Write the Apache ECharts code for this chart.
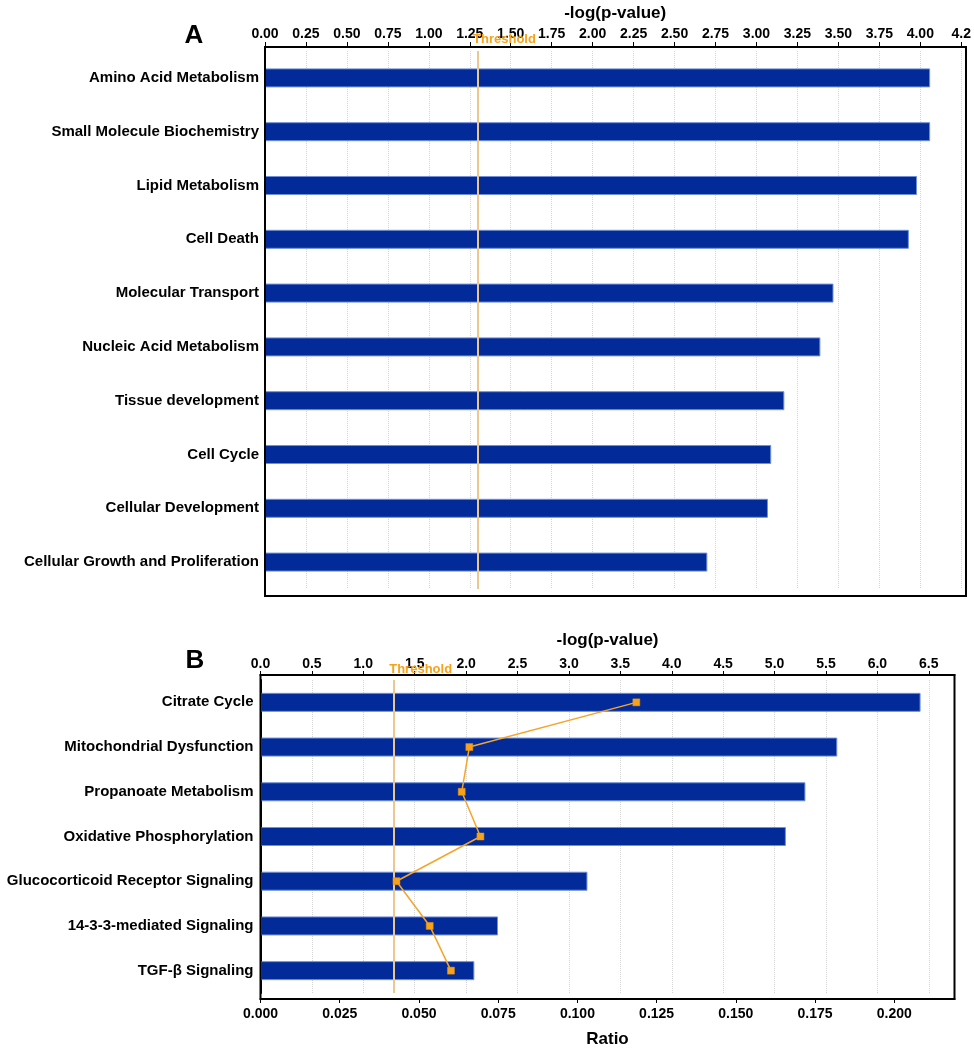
<!DOCTYPE html>
<html>
<head>
<meta charset="utf-8">
<script src="https://cdn.jsdelivr.net/npm/echarts@6/dist/echarts.min.js"></script>
<style>
html,body{margin:0;padding:0;background:#fff;}
#chart{width:974px;height:1050px;}
</style>
</head>
<body>
<div id="chart"></div>
<script>
// ---- Data ----
const categoriesA = ['Amino Acid Metabolism','Small Molecule Biochemistry','Lipid Metabolism','Cell Death','Molecular Transport','Nucleic Acid Metabolism','Tissue development','Cell Cycle','Cellular Development','Cellular Growth and Proliferation'];
const pValuesA = [4.06, 4.06, 3.98, 3.93, 3.47, 3.39, 3.17, 3.09, 3.07, 2.70];

const categoriesB = ['Citrate Cycle','Mitochondrial Dysfunction','Propanoate Metabolism','Oxidative Phosphorylation','Glucocorticoid Receptor Signaling','14-3-3-mediated Signaling','TGF-β Signaling'];
const pValuesB = [6.42, 5.61, 5.30, 5.11, 3.18, 2.31, 2.08];
const ratioB = [0.1186, 0.0659, 0.0635, 0.0694, 0.0429, 0.0534, 0.0601];

const threshold = 1.3;
const ticksA = {min: 0, max: 4.275, interval: 0.25};
const ticksB = {min: 0, max: 6.75, interval: 0.5};
const ticksRatio = {min: 0, max: 0.219, interval: 0.025};

// ---- Styles ----
const FONT = "'Liberation Sans', Arial, Helvetica, sans-serif";
const BAR = '#022a98';
const ORANGE = '#f7a21b';
const axisLineStyle = {show: true, lineStyle: {color: '#000', width: 2}};
const dotted = {show: true, lineStyle: {color: '#d4d4d4', type: 'dotted', width: 1}};
const tickLabel = {color: '#000', fontFamily: FONT, fontWeight: 'bold', fontSize: 14};
const catLabel = {color: '#000', fontFamily: FONT, fontWeight: 'bold', fontSize: 15};
const nameStyle = {color: '#000', fontFamily: FONT, fontWeight: 'bold', fontSize: 17};

function thresholdMark(dist) {
  return {
    silent: true,
    symbol: ['none', 'none'],
    lineStyle: {color: '#ecc890', width: 2, type: 'solid'},
    label: {
      show: true, position: 'start', formatter: 'Threshold',
      color: ORANGE, fontFamily: FONT, fontWeight: 'bold', fontSize: 13,
      padding: [0, 0, 0, 53], distance: dist
    },
    data: [{xAxis: threshold}]
  };
}

const chart = echarts.init(document.getElementById('chart'), null, {renderer: 'canvas'});
chart.setOption({
  backgroundColor: '#fff',
  animation: false,
  grid: [
    {left: 265, top: 51, width: 701, height: 538},
    {left: 260.5, top: 680, width: 694, height: 313}
  ],
  xAxis: [
    {
      gridIndex: 0, type: 'value', position: 'top', offset: 4,
      min: ticksA.min, max: ticksA.max, interval: ticksA.interval,
      name: '-log(p-value)', nameLocation: 'middle', nameGap: 25, nameTextStyle: nameStyle,
      axisLine: axisLineStyle,
      axisTick: {show: true, length: 5, lineStyle: {color: '#000', width: 1}},
      axisLabel: Object.assign({margin: 6, showMaxLabel: false,
        formatter: v => (Math.abs(v - 4.25) < 1e-9 ? '4.2' : v.toFixed(2))}, tickLabel),
      splitLine: dotted
    },
    {
      gridIndex: 1, type: 'value', position: 'top', offset: 5,
      min: ticksB.min, max: ticksB.max, interval: ticksB.interval,
      name: '-log(p-value)', nameLocation: 'middle', nameGap: 26, nameTextStyle: nameStyle,
      axisLine: axisLineStyle,
      axisTick: {show: true, length: 4, lineStyle: {color: '#000', width: 1}},
      axisLabel: Object.assign({margin: 4, showMaxLabel: false,
        formatter: v => v.toFixed(1)}, tickLabel),
      splitLine: dotted
    },
    {
      gridIndex: 1, type: 'value', position: 'bottom', offset: 6,
      min: ticksRatio.min, max: ticksRatio.max, interval: ticksRatio.interval,
      name: 'Ratio', nameLocation: 'middle', nameGap: 32, nameTextStyle: nameStyle,
      axisLine: axisLineStyle,
      axisTick: {show: true, length: 4, lineStyle: {color: '#000', width: 1}},
      axisLabel: Object.assign({margin: 8, showMaxLabel: false,
        formatter: v => v.toFixed(3)}, tickLabel),
      splitLine: {show: false}
    }
  ],
  yAxis: [
    {
      gridIndex: 0, type: 'category', data: categoriesA, inverse: true,
      axisLine: axisLineStyle, axisTick: {show: false},
      axisLabel: Object.assign({margin: 6}, catLabel),
      splitLine: {show: false}
    },
    {
      gridIndex: 1, type: 'category', data: categoriesB, inverse: true,
      axisLine: axisLineStyle, axisTick: {show: false},
      axisLabel: Object.assign({margin: 7}, catLabel),
      splitLine: {show: false}
    }
  ],
  series: [
    {
      type: 'bar', xAxisIndex: 0, yAxisIndex: 0, data: pValuesA, barWidth: 19,
      itemStyle: {color: BAR, borderColor: '#6f8fd8', borderWidth: 1},
      markLine: thresholdMark(5), z: 2
    },
    {
      type: 'bar', xAxisIndex: 1, yAxisIndex: 1, data: pValuesB, barWidth: 19,
      itemStyle: {color: BAR, borderColor: '#6f8fd8', borderWidth: 1},
      markLine: thresholdMark(4), z: 2
    },
    {
      type: 'line', xAxisIndex: 2, yAxisIndex: 1, data: ratioB,
      symbol: 'rect', symbolSize: 7, z: 5,
      lineStyle: {color: '#f5a52a', width: 1.5},
      itemStyle: {color: ORANGE, borderColor: '#e8900a', borderWidth: 0.5}
    }
  ],
  graphic: [
    {type: 'rect', silent: true, z: 100, shape: {x: 265, y: 47, width: 701, height: 549},
      style: {fill: 'none', stroke: '#000', lineWidth: 2}},
    {type: 'rect', silent: true, z: 100, shape: {x: 260.5, y: 675, width: 694, height: 324},
      style: {fill: 'none', stroke: '#000', lineWidth: 2}},
    {type: 'text', x: 194, y: 36, z: 100,
      style: {text: 'A', fill: '#000', font: "bold 26px 'Liberation Sans', Arial, sans-serif", textAlign: 'center', textVerticalAlign: 'middle'}},
    {type: 'text', x: 195, y: 661, z: 100,
      style: {text: 'B', fill: '#000', font: "bold 26px 'Liberation Sans', Arial, sans-serif", textAlign: 'center', textVerticalAlign: 'middle'}}
  ]
});
</script>
</body>
</html>
